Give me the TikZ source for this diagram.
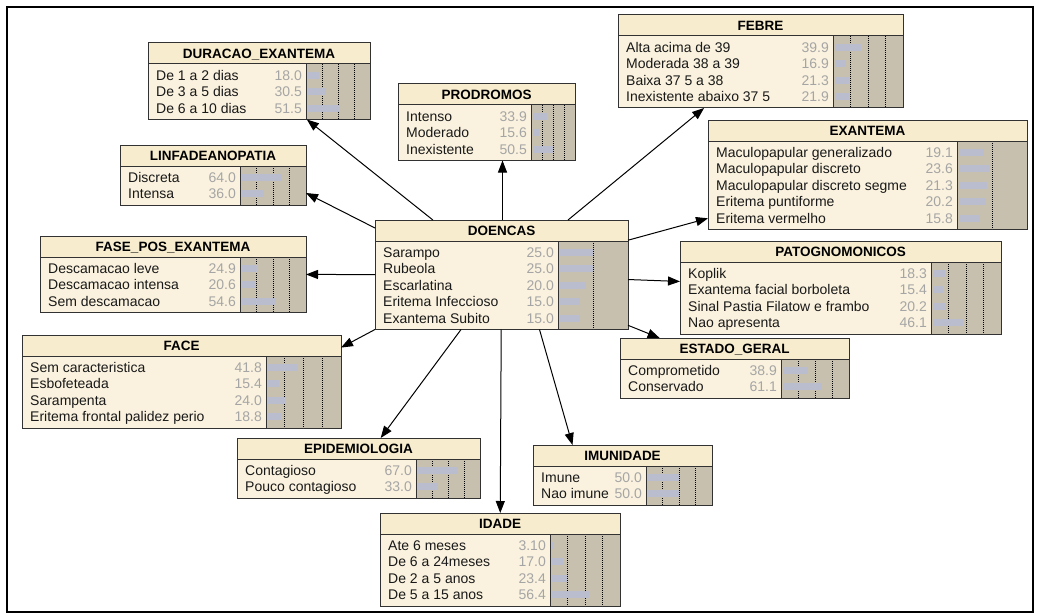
\documentclass[tikz,border=0pt]{standalone}
\usepackage{fontspec}
\setmainfont{Liberation Sans}
\usetikzlibrary{arrows.meta}

\definecolor{bandcol}{RGB}{247,236,206}
\definecolor{bodycol}{RGB}{250,242,222}
\definecolor{barbg}{RGB}{200,192,174}
\definecolor{barcol}{RGB}{186,189,206}
\definecolor{valcol}{RGB}{165,165,165}
\definecolor{edgecol}{RGB}{50,50,50}

\tikzset{
  link/.style={draw=black, line width=1pt, -{Triangle[length=12pt,width=9pt]}},
  boxline/.style={draw=edgecol, line width=1pt},
  rowtxt/.style={font=\fontsize{14}{16}\selectfont, inner sep=0pt, anchor=base west, text=black!90},
  valtxt/.style={font=\fontsize{14}{16}\selectfont, inner sep=0pt, anchor=base east, text=valcol},
  titletxt/.style={font=\fontsize{13.5}{16}\selectfont\bfseries, inner sep=0pt, anchor=base},
  gridline/.style={black, line width=0.8pt, dash pattern=on 1pt off 1pt}
}

\newcommand\bandh{21}
\newcommand\rowh{16.5}

% #1 name, #2 left, #3 top, #4 right, #5 left edge of bar area,
% #6 number of states, #7 bar scale (percent at full width), #8 title, #9 states
\newcommand\bnnode[9]{%
  \pgfmathsetmacro\bnbot{#3+\bandh+6+#6*\rowh}
  \pgfmathsetmacro\bnw{#4-#2}
  \pgfmathsetmacro\bnh{\bnbot-#3}
  \pgfmathsetmacro\barw{#4-#5}
  \fill[bodycol] (#2,#3) rectangle (#5,\bnbot);
  \fill[barbg] (#5,#3) rectangle (#4,\bnbot);
  \fill[bandcol] (#2,#3) rectangle (#4,#3+\bandh);
  \ifnum#7=50
    \draw[gridline] (#5+\barw/2,#3+\bandh) -- (#5+\barw/2,\bnbot);
  \else
    \foreach \q in {0.25,0.5,0.75}
      \draw[gridline] (#5+\q*\barw,#3+\bandh) -- (#5+\q*\barw,\bnbot);
  \fi
  \foreach \lab/\val [count=\i] in {#9} {
    \pgfmathsetmacro\ry{#3+\bandh+3+(\i-0.5)*\rowh}
    \fill[barcol] (#5+2,\ry-3.5) rectangle ({#5+2+\val/#7*(\barw-4)},\ry+3.5);
    \node[rowtxt] at (#2+8,\ry+5) {\lab};
    \node[valtxt] at (#5-4,\ry+5) {\val};
  }
  \draw[boxline] (#2,#3+\bandh) -- (#4,#3+\bandh);
  \draw[boxline] (#5,#3+\bandh) -- (#5,\bnbot);
  \node[boxline, inner sep=0pt, outer sep=0pt, minimum width=\bnw pt,
        minimum height=\bnh pt, anchor=north west] (#1) at (#2,#3) {};
  \node[titletxt] at ({(#2+#4)/2},#3+\bandh/2+5) {#8};
}

\begin{document}
\begin{tikzpicture}[x=1pt,y=-1pt]
\useasboundingbox (0,0) rectangle (1040,615);
\fill[white] (0,0) rectangle (1040,615);
\draw[line width=2pt] (7,7) rectangle (1033,612);

\bnnode{doencas}{375}{220}{628}{558}{5}{50}{DOENCAS}
  {Sarampo/25.0, Rubeola/25.0, Escarlatina/20.0, Eritema Infeccioso/15.0, Exantema Subito/15.0}
\bnnode{duracao}{148}{43}{370}{306}{3}{100}{DURACAO\_EXANTEMA}
  {De 1 a 2 dias/18.0, De 3 a 5 dias/30.5, De 6 a 10 dias/51.5}
\bnnode{prodromos}{398}{84}{575}{531}{3}{100}{PRODROMOS}
  {Intenso/33.9, Moderado/15.6, Inexistente/50.5}
\bnnode{febre}{618}{15}{903}{833}{4}{100}{FEBRE}
  {Alta acima de 39/39.9, Moderada 38 a 39/16.9, Baixa 37 5 a 38/21.3, Inexistente abaixo 37 5/21.9}
\bnnode{exantema}{708}{120}{1027}{957}{5}{50}{EXANTEMA}
  {Maculopapular generalizado/19.1, Maculopapular discreto/23.6, Maculopapular discreto segme/21.3, Eritema puntiforme/20.2, Eritema vermelho/15.8}
\bnnode{linfa}{120}{145}{306}{240}{2}{100}{LINFADEANOPATIA}
  {Discreta/64.0, Intensa/36.0}
\bnnode{fase}{40}{236}{306}{240}{3}{100}{FASE\_POS\_EXANTEMA}
  {Descamacao leve/24.9, Descamacao intensa/20.6, Sem descamacao/54.6}
\bnnode{patog}{680}{241}{1001}{931}{4}{100}{PATOGNOMONICOS}
  {Koplik/18.3, Exantema facial borboleta/15.4, Sinal Pastia Filatow e frambo/20.2, Nao apresenta/46.1}
\bnnode{face}{22}{335}{341}{266}{4}{100}{FACE}
  {Sem caracteristica/41.8, Esbofeteada/15.4, Sarampenta/24.0, Eritema frontal palidez perio/18.8}
\bnnode{estado}{620}{338}{849}{781}{2}{100}{ESTADO\_GERAL}
  {Comprometido/38.9, Conservado/61.1}
\bnnode{epidem}{237}{438}{480}{416}{2}{100}{EPIDEMIOLOGIA}
  {Contagioso/67.0, Pouco contagioso/33.0}
\bnnode{imunidade}{533}{445}{712}{646}{2}{100}{IMUNIDADE}
  {Imune/50.0, Nao imune/50.0}
\bnnode{idade}{380}{513}{620}{550}{4}{100}{IDADE}
  {Ate 6 meses/3.10, De 6 a 24meses/17.0, De 2 a 5 anos/23.4, De 5 a 15 anos/56.4}

% links from the parent node to each child
\draw[link] (doencas) -- (duracao);
\draw[link] ([xshift=1pt]doencas.north) -- ([xshift=1pt]doencas.north |- prodromos.south);
\draw[link] (doencas) -- (febre);
\draw[link] (doencas) -- (exantema);
\draw[link] (doencas) -- (patog);
\draw[link] (doencas) -- (estado);
\draw[link] ([xshift=38pt]doencas.south) -- ([xshift=-50pt]imunidade.north);
\draw[link] (doencas) -- (idade);
\draw[link] (doencas) -- (epidem);
\draw[link] (doencas) -- (fase);
\draw[link] ([yshift=-8pt]doencas.north west) -- ([yshift=-18pt]linfa.east);
\draw[link] (doencas.south west) -- (face.12);
\end{tikzpicture}
\end{document}
